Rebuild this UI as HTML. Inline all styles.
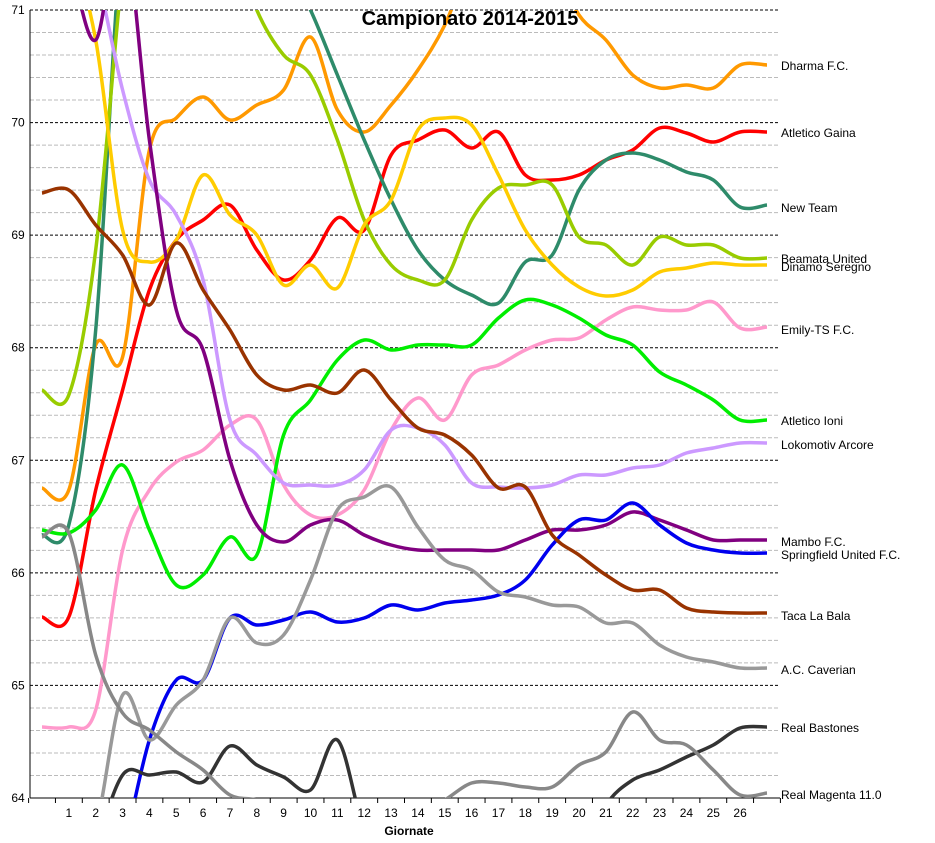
<!DOCTYPE html>
<html><head><meta charset="utf-8"><style>
html,body{margin:0;padding:0;background:#fff;overflow:hidden;width:935px;height:843px;}
svg{display:block;}
svg text{font-family:"Liberation Sans",sans-serif;}
</style></head><body>
<svg id="s" width="935" height="843" xmlns="http://www.w3.org/2000/svg">
<defs><clipPath id="c"><rect x="30" y="10" width="750" height="788"/></clipPath></defs>
<g id="grid"></g>
<g id="lines" clip-path="url(#c)" fill="none" stroke-width="3.5" stroke-linejoin="round"></g>
<g id="labels" font-size="12" fill="#000"></g>
<text x="470" y="25" font-size="20" font-weight="bold" text-anchor="middle">Campionato 2014-2015</text>
<text x="409" y="835" font-size="12" font-weight="bold" text-anchor="middle">Giornate</text>
</svg>
<script>
var NS="http://www.w3.org/2000/svg";
function el(p,t,a,txt){var e=document.createElementNS(NS,t);for(var k in a)e.setAttribute(k,a[k]);if(txt!==undefined)e.textContent=txt;p.appendChild(e);return e;}
var g=document.getElementById('grid');
for(var i=0;i<=35;i++){var y=10+i*788/35;var major=i%5==0;
 el(g,'line',{x1:30,x2:780,y1:y,y2:y,stroke:major?'#000':'#bbb','stroke-width':1,'stroke-dasharray':major?'3,2':'4,2'});
 if(major)el(g,'text',{x:18,y:y+4,'font-size':12,'text-anchor':'middle'},String(71-i/5));}
el(g,'line',{x1:30,x2:30,y1:10,y2:798,stroke:'#000'});
el(g,'line',{x1:30,x2:780,y1:798,y2:798,stroke:'#000'});
function X(i){return 42+i*26.85;}
for(var i=0;i<=28;i++){var x=X(i)-13.4;el(g,'line',{x1:x,x2:x,y1:798,y2:803,stroke:'#000'});}
for(var i=1;i<=26;i++)el(g,'text',{x:X(i),y:817,'font-size':12,'text-anchor':'middle'},String(i));
var S=[
['#ff9900','Dharma F.C.',69,[488,490,345,357,150,118,97,120,105,90,37,110,132,105,70,25,-40,-70,-70,-40,15,40,75,88,85,88,65,65]],
['#ff0000','Atletico Gaina',136,[617,617,490,390,290,240,220,205,250,280,260,218,230,155,140,130,148,132,175,180,175,160,150,128,133,142,132,132]],
['#2e8b6a','New Team',211,[535,525,330,-80,-250,-250,-200,-150,-90,-40,10,75,140,200,250,280,295,303,262,255,190,160,153,160,172,180,207,205]],
['#99cc00','Beamata United',262,[390,395,250,-30,-250,-250,-150,-70,10,55,75,140,220,265,280,280,220,188,185,185,237,245,265,237,245,245,258,258]],
['#ffcc00','Dinamo Seregno',270,[-120,-60,40,230,262,240,175,215,235,285,265,288,225,200,130,118,125,175,230,265,287,296,290,272,268,263,265,265]],
['#ff99cc','Emily-TS F.C.',333,[727,727,710,550,490,462,450,425,420,485,515,515,490,430,398,420,375,365,350,340,338,320,307,310,310,302,328,327]],
['#00ee00','Atletico Ioni',424,[530,533,510,465,530,585,575,537,555,435,400,360,340,350,345,345,345,318,300,305,318,335,345,372,385,400,420,420]],
['#cc99ff','Lokomotiv Arcore',448,[-150,-100,-30,90,180,215,280,420,455,483,485,485,470,430,428,445,483,487,488,485,475,475,468,465,453,448,443,443]],
['#800080','Mambo F.C.',545,[-100,-40,40,-80,140,310,350,460,525,542,525,520,535,545,550,550,550,550,540,530,530,525,512,520,530,540,540,540]],
['#0000ee','Springfield United F.C.',558,[950,950,920,850,740,680,680,618,625,620,612,622,618,605,610,603,600,595,580,545,520,520,503,525,543,550,553,553]],
['#993300','Taca La Bala',619,[193,190,225,255,305,243,290,330,375,390,385,393,370,400,428,435,455,488,487,535,555,575,590,590,608,612,613,613]],
['#999999','A.C. Caverian',673,[950,900,830,695,740,705,680,618,643,635,580,510,497,487,527,560,570,592,597,605,607,623,623,645,657,662,668,668]],
['#333333','Real Bastones',731,[950,950,850,775,775,772,782,746,765,777,790,740,830,870,880,880,880,880,880,870,860,805,780,770,757,745,728,727]],
['#888888','Real Magenta  11.0',798,[537,533,655,713,730,752,770,795,800,810,815,815,815,815,815,800,783,783,787,787,765,752,712,740,745,770,795,793]]
];
var L=document.getElementById('lines'),LB=document.getElementById('labels');
S.forEach(function(s){var p=s[3],pts=p.map(function(v,i){return[X(i),v];});
 var d='M'+pts[0][0]+','+pts[0][1];
 for(var i=0;i<pts.length-1;i++){var p0=pts[Math.max(0,i-1)],p1=pts[i],p2=pts[i+1],p3=pts[Math.min(pts.length-1,i+2)];
  var c1=[p1[0]+(p2[0]-p0[0])/6,p1[1]+(p2[1]-p0[1])/6],c2=[p2[0]-(p3[0]-p1[0])/6,p2[1]-(p3[1]-p1[1])/6];
  d+=' C'+c1[0].toFixed(1)+','+c1[1].toFixed(1)+' '+c2[0].toFixed(1)+','+c2[1].toFixed(1)+' '+p2[0].toFixed(1)+','+p2[1];}
 el(L,'path',{d:d,stroke:s[0]});
 el(LB,'text',{x:781,y:s[2]+1},s[1]);
});
</script>
</body></html>
